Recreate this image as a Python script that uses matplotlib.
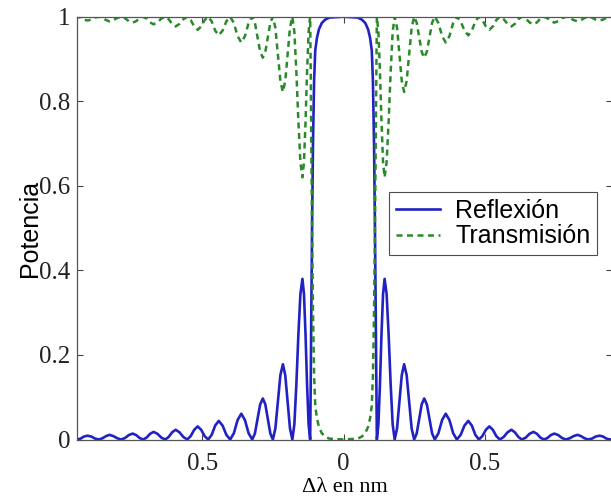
import matplotlib
matplotlib.use("Agg")
import matplotlib.pyplot as plt

# Wavelength detuning (nm)
delta_lambda = [
    -0.95, -0.943, -0.9307, -0.9183, -0.906, -0.8923, -0.8787,
    -0.865, -0.8527, -0.8403, -0.828, -0.8143, -0.8007,
    -0.787, -0.7733, -0.7597, -0.746, -0.7337, -0.7213,
    -0.709, -0.6967, -0.6843, -0.672, -0.6583, -0.6447,
    -0.631, -0.6187, -0.6063, -0.594, -0.5803, -0.5667,
    -0.553, -0.5407, -0.5283, -0.516, -0.5037, -0.4913,
    -0.479, -0.4665, -0.454, -0.4415, -0.428, -0.4145,
    -0.401, -0.3879, -0.3748, -0.3617, -0.3488, -0.3359,
    -0.323, -0.3136, -0.3043, -0.2949, -0.2855, -0.2766, -0.2678, -0.2589,
    -0.250, -0.2411, -0.2323, -0.2234, -0.2145, -0.2061, -0.1978, -0.1894,
    -0.181, -0.1739, -0.1668, -0.1596, -0.1525, -0.1454, -0.1399, -0.1344, -0.129, -0.1235,
    -0.118, -0.116, -0.114, -0.111, -0.108, -0.104, -0.100, -0.094, -0.087, -0.077, -0.065, -0.05,
    0.0,
    0.05, 0.065, 0.077, 0.087, 0.094, 0.100, 0.104, 0.108, 0.111, 0.114, 0.116, 0.118,
    0.1235, 0.129, 0.1344, 0.1399, 0.1454, 0.1525, 0.1596, 0.1668, 0.1739, 0.181,
    0.1894, 0.1978, 0.2061, 0.2145, 0.2234, 0.2323, 0.2411, 0.250,
    0.2589, 0.2678, 0.2766, 0.2855, 0.2949, 0.3043, 0.3136, 0.323,
    0.3359, 0.3488, 0.3617, 0.3748, 0.3879, 0.401,
    0.4145, 0.428, 0.4415, 0.454, 0.4665, 0.479,
    0.4913, 0.5037, 0.516, 0.5283, 0.5407, 0.553,
    0.5667, 0.5803, 0.594, 0.6063, 0.6187, 0.631,
    0.6447, 0.6583, 0.672, 0.6843, 0.6967, 0.709,
    0.7213, 0.7337, 0.746, 0.7597, 0.7733, 0.787,
    0.8007, 0.8143, 0.828, 0.8403, 0.8527, 0.865,
    0.8787, 0.8923, 0.906, 0.9183, 0.9307, 0.943, 0.95,
]

reflexion = [
    0.0005, 0.0, 0.002, 0.007, 0.009, 0.007, 0.002,
    0.0, 0.003, 0.008, 0.011, 0.008, 0.003,
    0.0, 0.0035, 0.0105, 0.014, 0.0105, 0.0035,
    0.0, 0.0045, 0.0135, 0.018, 0.0135, 0.0045,
    0.0, 0.006, 0.017, 0.023, 0.017, 0.006,
    0.0, 0.008, 0.023, 0.031, 0.023, 0.008,
    0.0, 0.011, 0.033, 0.044, 0.033, 0.011,
    0.0, 0.015, 0.046, 0.061, 0.046, 0.015,
    0.0, 0.014, 0.0485, 0.083, 0.097, 0.083, 0.0485, 0.014,
    0.0, 0.026, 0.089, 0.152, 0.178, 0.152, 0.089, 0.026,
    0.0, 0.036, 0.131, 0.249, 0.344, 0.38, 0.344, 0.249, 0.131, 0.036,
    0.0, 0.13, 0.30, 0.52, 0.70, 0.85, 0.92, 0.95, 0.97, 0.985, 0.993, 0.998,
    1.0,
    0.998, 0.993, 0.985, 0.97, 0.95, 0.92, 0.85, 0.70, 0.52, 0.30, 0.13, 0.0,
    0.036, 0.131, 0.249, 0.344, 0.38, 0.344, 0.249, 0.131, 0.036, 0.0,
    0.026, 0.089, 0.152, 0.178, 0.152, 0.089, 0.026, 0.0,
    0.014, 0.0485, 0.083, 0.097, 0.083, 0.0485, 0.014, 0.0,
    0.015, 0.046, 0.061, 0.046, 0.015, 0.0,
    0.011, 0.033, 0.044, 0.033, 0.011, 0.0,
    0.008, 0.023, 0.031, 0.023, 0.008, 0.0,
    0.006, 0.017, 0.023, 0.017, 0.006, 0.0,
    0.0045, 0.0135, 0.018, 0.0135, 0.0045, 0.0,
    0.0035, 0.0105, 0.014, 0.0105, 0.0035, 0.0,
    0.003, 0.008, 0.011, 0.008, 0.003, 0.0,
    0.002, 0.007, 0.009, 0.007, 0.002, 0.0, 0.0005,
]

transmision = [
    0.9995, 1.0, 0.998, 0.993, 0.991, 0.993, 0.998,
    1.0, 0.997, 0.992, 0.989, 0.992, 0.997,
    1.0, 0.9965, 0.9895, 0.986, 0.9895, 0.9965,
    1.0, 0.9955, 0.9865, 0.982, 0.9865, 0.9955,
    1.0, 0.994, 0.983, 0.977, 0.983, 0.994,
    1.0, 0.992, 0.977, 0.969, 0.977, 0.992,
    1.0, 0.989, 0.967, 0.956, 0.967, 0.989,
    1.0, 0.985, 0.954, 0.939, 0.954, 0.985,
    1.0, 0.986, 0.9515, 0.917, 0.903, 0.917, 0.9515, 0.986,
    1.0, 0.974, 0.911, 0.848, 0.822, 0.848, 0.911, 0.974,
    1.0, 0.964, 0.869, 0.751, 0.656, 0.62, 0.656, 0.751, 0.869, 0.964,
    1.0, 0.87, 0.70, 0.48, 0.30, 0.15, 0.08, 0.05, 0.03, 0.015, 0.007, 0.002,
    0.0,
    0.002, 0.007, 0.015, 0.03, 0.05, 0.08, 0.15, 0.30, 0.48, 0.70, 0.87, 1.0,
    0.964, 0.869, 0.751, 0.656, 0.62, 0.656, 0.751, 0.869, 0.964, 1.0,
    0.974, 0.911, 0.848, 0.822, 0.848, 0.911, 0.974, 1.0,
    0.986, 0.9515, 0.917, 0.903, 0.917, 0.9515, 0.986, 1.0,
    0.985, 0.954, 0.939, 0.954, 0.985, 1.0,
    0.989, 0.967, 0.956, 0.967, 0.989, 1.0,
    0.992, 0.977, 0.969, 0.977, 0.992, 1.0,
    0.994, 0.983, 0.977, 0.983, 0.994, 1.0,
    0.9955, 0.9865, 0.982, 0.9865, 0.9955, 1.0,
    0.9965, 0.9895, 0.986, 0.9895, 0.9965, 1.0,
    0.997, 0.992, 0.989, 0.992, 0.997, 1.0,
    0.998, 0.993, 0.991, 0.993, 0.998, 1.0, 0.9995,
]

x_ticks = [-0.5, 0.0, 0.5]
x_tick_labels = ["0.5", "0", "0.5"]
y_ticks = [0, 0.2, 0.4, 0.6, 0.8, 1.0]
y_tick_labels = ["0", "0.2", "0.4", "0.6", "0.8", "1"]

W, H = 611, 497
fig = plt.figure(figsize=(W / 100, H / 100), dpi=100)
left, right = 77 / W, 612 / W
top, bottom = 1 - 16.7 / H, 1 - 439.5 / H
ax = fig.add_axes([left, bottom, right - left, top - bottom])

ax.plot(delta_lambda, reflexion, color="#2222c4", lw=1.9, label="Reflexión",
        solid_joinstyle="round")
ax.plot(delta_lambda, transmision, color="#2a8a2a", lw=1.8, dashes=(2.4, 1.8),
        label="Transmisión")

ax.set_xlim(-0.943, 0.95)
ax.set_ylim(0, 1)
ax.set_xticks(x_ticks)
ax.set_xticklabels(x_tick_labels, fontfamily="Liberation Serif", fontsize=18)
ax.set_yticks(y_ticks)
ax.set_yticklabels(y_tick_labels, fontfamily="Liberation Serif", fontsize=18)
ax.tick_params(direction="in", length=4, width=0.8, top=True, right=True,
               colors="#444444", labelcolor="#222222")
ax.tick_params(axis="x", pad=10)
ax.tick_params(axis="y", pad=5)
for s in ax.spines.values():
    s.set_color("#555555")
    s.set_linewidth(0.9)

ax.set_ylabel("Potencia", fontfamily="Liberation Sans", fontsize=18, labelpad=-2)
ax.set_xlabel("Δλ en nm", fontfamily="Liberation Serif", fontsize=16, labelpad=2)

leg = ax.legend(loc="upper left", bbox_to_anchor=(0.584, 0.585), borderaxespad=0,
                prop={"family": "Liberation Sans", "size": 18}, frameon=True,
                fancybox=False, handlelength=1.75, handletextpad=0.6,
                borderpad=0.28, labelspacing=0.05)
leg.get_frame().set_edgecolor("#222222")
leg.get_frame().set_linewidth(0.8)

fig.savefig("out.png", dpi=100)
